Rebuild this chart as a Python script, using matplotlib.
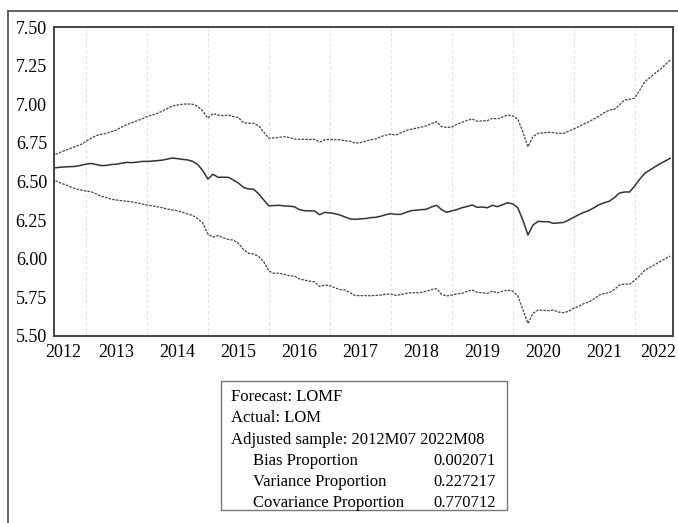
import numpy as np
import matplotlib
matplotlib.use("Agg")
import matplotlib.pyplot as plt
from matplotlib.patches import Rectangle
from matplotlib.lines import Line2D

# Monthly sample 2012M07 - 2022M08 (122 observations)
start_year, start_month = 2012, 7

forecast = [
    6.589, 6.592, 6.595, 6.596, 6.598, 6.605, 6.612, 6.617, 6.610, 6.603,
    6.604, 6.610, 6.612, 6.618, 6.624, 6.622, 6.625, 6.630, 6.630, 6.632,
    6.635, 6.638, 6.645, 6.652, 6.648, 6.643, 6.640, 6.630, 6.610, 6.570,
    6.516, 6.547, 6.527, 6.528, 6.527, 6.510, 6.490, 6.462, 6.452, 6.450,
    6.420, 6.380, 6.343, 6.344, 6.346, 6.342, 6.340, 6.337, 6.318, 6.311,
    6.310, 6.309, 6.285, 6.300, 6.297, 6.292, 6.283, 6.270, 6.258, 6.255,
    6.258, 6.260, 6.266, 6.268, 6.275, 6.285, 6.292, 6.287, 6.288, 6.300,
    6.311, 6.314, 6.318, 6.320, 6.335, 6.346, 6.318, 6.300, 6.310, 6.318,
    6.330, 6.338, 6.348, 6.333, 6.335, 6.330, 6.346, 6.337, 6.350, 6.363,
    6.355, 6.330, 6.250, 6.154, 6.218, 6.242, 6.240, 6.240, 6.229, 6.232,
    6.235, 6.250, 6.268, 6.285, 6.300, 6.312, 6.330, 6.350, 6.362, 6.372,
    6.395, 6.425, 6.432, 6.432, 6.470, 6.515, 6.553, 6.574, 6.595, 6.615,
    6.632, 6.650,
]

upper = [
    6.676, 6.690, 6.703, 6.715, 6.728, 6.740, 6.760, 6.780, 6.797, 6.805,
    6.812, 6.822, 6.833, 6.852, 6.868, 6.880, 6.892, 6.905, 6.920, 6.930,
    6.940, 6.955, 6.972, 6.988, 6.995, 7.000, 7.002, 7.000, 6.986, 6.955,
    6.910, 6.940, 6.930, 6.926, 6.930, 6.920, 6.915, 6.880, 6.877, 6.876,
    6.860, 6.820, 6.780, 6.782, 6.786, 6.790, 6.785, 6.775, 6.773, 6.773,
    6.772, 6.773, 6.755, 6.770, 6.773, 6.770, 6.770, 6.764, 6.760, 6.748,
    6.752, 6.760, 6.770, 6.775, 6.790, 6.800, 6.807, 6.800, 6.815, 6.830,
    6.838, 6.845, 6.852, 6.860, 6.875, 6.887, 6.855, 6.851, 6.852, 6.870,
    6.883, 6.895, 6.905, 6.890, 6.892, 6.894, 6.909, 6.905, 6.918, 6.930,
    6.925, 6.905, 6.820, 6.725, 6.790, 6.812, 6.815, 6.818, 6.816, 6.812,
    6.812, 6.825, 6.840, 6.855, 6.872, 6.887, 6.905, 6.924, 6.945, 6.962,
    6.967, 6.995, 7.027, 7.032, 7.040, 7.090, 7.146, 7.172, 7.200, 7.225,
    7.255, 7.286,
]

lower = [
    6.505, 6.490, 6.478, 6.465, 6.452, 6.445, 6.438, 6.434, 6.420, 6.405,
    6.395, 6.385, 6.380, 6.376, 6.372, 6.369, 6.362, 6.355, 6.348, 6.342,
    6.337, 6.330, 6.322, 6.316, 6.311, 6.300, 6.290, 6.280, 6.260, 6.230,
    6.160, 6.140, 6.150, 6.135, 6.125, 6.121, 6.100, 6.060, 6.035, 6.031,
    6.015, 5.980, 5.920, 5.906, 5.906, 5.900, 5.890, 5.888, 5.870, 5.862,
    5.855, 5.851, 5.820, 5.830, 5.826, 5.812, 5.800, 5.798, 5.780, 5.762,
    5.761, 5.761, 5.761, 5.762, 5.765, 5.770, 5.772, 5.763, 5.768, 5.776,
    5.780, 5.780, 5.782, 5.790, 5.800, 5.807, 5.770, 5.759, 5.765, 5.772,
    5.776, 5.788, 5.798, 5.783, 5.780, 5.776, 5.791, 5.780, 5.790, 5.798,
    5.790, 5.760, 5.670, 5.582, 5.647, 5.668, 5.666, 5.664, 5.668, 5.655,
    5.651, 5.660, 5.679, 5.692, 5.710, 5.720, 5.740, 5.765, 5.775, 5.780,
    5.800, 5.830, 5.836, 5.835, 5.860, 5.890, 5.925, 5.944, 5.962, 5.982,
    6.000, 6.018,
]

year_labels = [str(y) for y in range(2012, 2023)]
y_ticks = [5.50, 5.75, 6.00, 6.25, 6.50, 6.75, 7.00, 7.25, 7.50]

stats_header = ["Forecast: LOMF", "Actual: LOM", "Adjusted sample: 2012M07 2022M08"]
stats_names = ["Bias Proportion", "Variance Proportion", "Covariance Proportion"]
stats_values = ["0.002071", "0.227217", "0.770712"]

plt.rcParams['font.family'] = ['Liberation Serif', 'DejaVu Serif']

n = len(forecast)
t = start_year + (start_month - 1) / 12 + np.arange(n) / 12

W, H = 678, 523
fig = plt.figure(figsize=(W / 100, H / 100), dpi=100)

# outer frame (partially cropped in the original)
fig.add_artist(Line2D([8 / W, 1.0], [1 - 11 / H, 1 - 11 / H], transform=fig.transFigure,
                      color='#555555', lw=1.3))
fig.add_artist(Line2D([8 / W, 8 / W], [0.0, 1 - 11 / H], transform=fig.transFigure,
                      color='#555555', lw=1.3))

ax = fig.add_axes([54 / W, 1 - 336 / H, (673 - 54) / W, (336 - 27) / H])

ax.plot(t, forecast, color='#333333', lw=1.1)
ax.plot(t, upper, color='#444444', lw=0.9, linestyle=(0, (2.0, 1.0)))
ax.plot(t, lower, color='#444444', lw=0.9, linestyle=(0, (2.0, 1.0)))

ax.set_xlim(2012.475, 2022.63)
ax.set_ylim(5.5, 7.5)

for yr in range(2013, 2023):
    ax.axvline(yr, color='#e2e2e2', lw=0.8, linestyle=(0, (3, 2)), zorder=0)

xpos = [y + 0.5 for y in range(2012, 2023)]
xpos[0] = 2012.62
xpos[-1] = 2022.38
ax.set_xticks(xpos)
ax.set_xticklabels(year_labels)
ax.set_yticks(y_ticks)
ax.set_yticklabels([f'{v:.2f}' for v in y_ticks])
ax.tick_params(axis='both', length=0, labelsize=13, colors='black')
ax.tick_params(axis='x', pad=6)
ax.tick_params(axis='y', pad=5)

for s in ax.spines.values():
    s.set_color('#444444')
    s.set_linewidth(1.4)

# statistics box
bx0, by0, bx1, by1 = 221, 381, 507, 510
fig.add_artist(Rectangle((bx0 / W, 1 - by1 / H), (bx1 - bx0) / W, (by1 - by0) / H,
                         transform=fig.transFigure, fill=False, edgecolor='#777777', lw=1.0))
fs = 12
base_y = [401, 422.5, 444, 465, 486, 507]
for txt, yy in zip(stats_header, base_y[:3]):
    fig.text(231 / W, 1 - yy / H, txt, fontsize=fs, va='baseline', ha='left')
for name, val, yy in zip(stats_names, stats_values, base_y[3:]):
    fig.text(253 / W, 1 - yy / H, name, fontsize=fs, va='baseline', ha='left')
    fig.text(496 / W, 1 - yy / H, val, fontsize=fs, va='baseline', ha='right')

fig.savefig('out.png', dpi=100)
